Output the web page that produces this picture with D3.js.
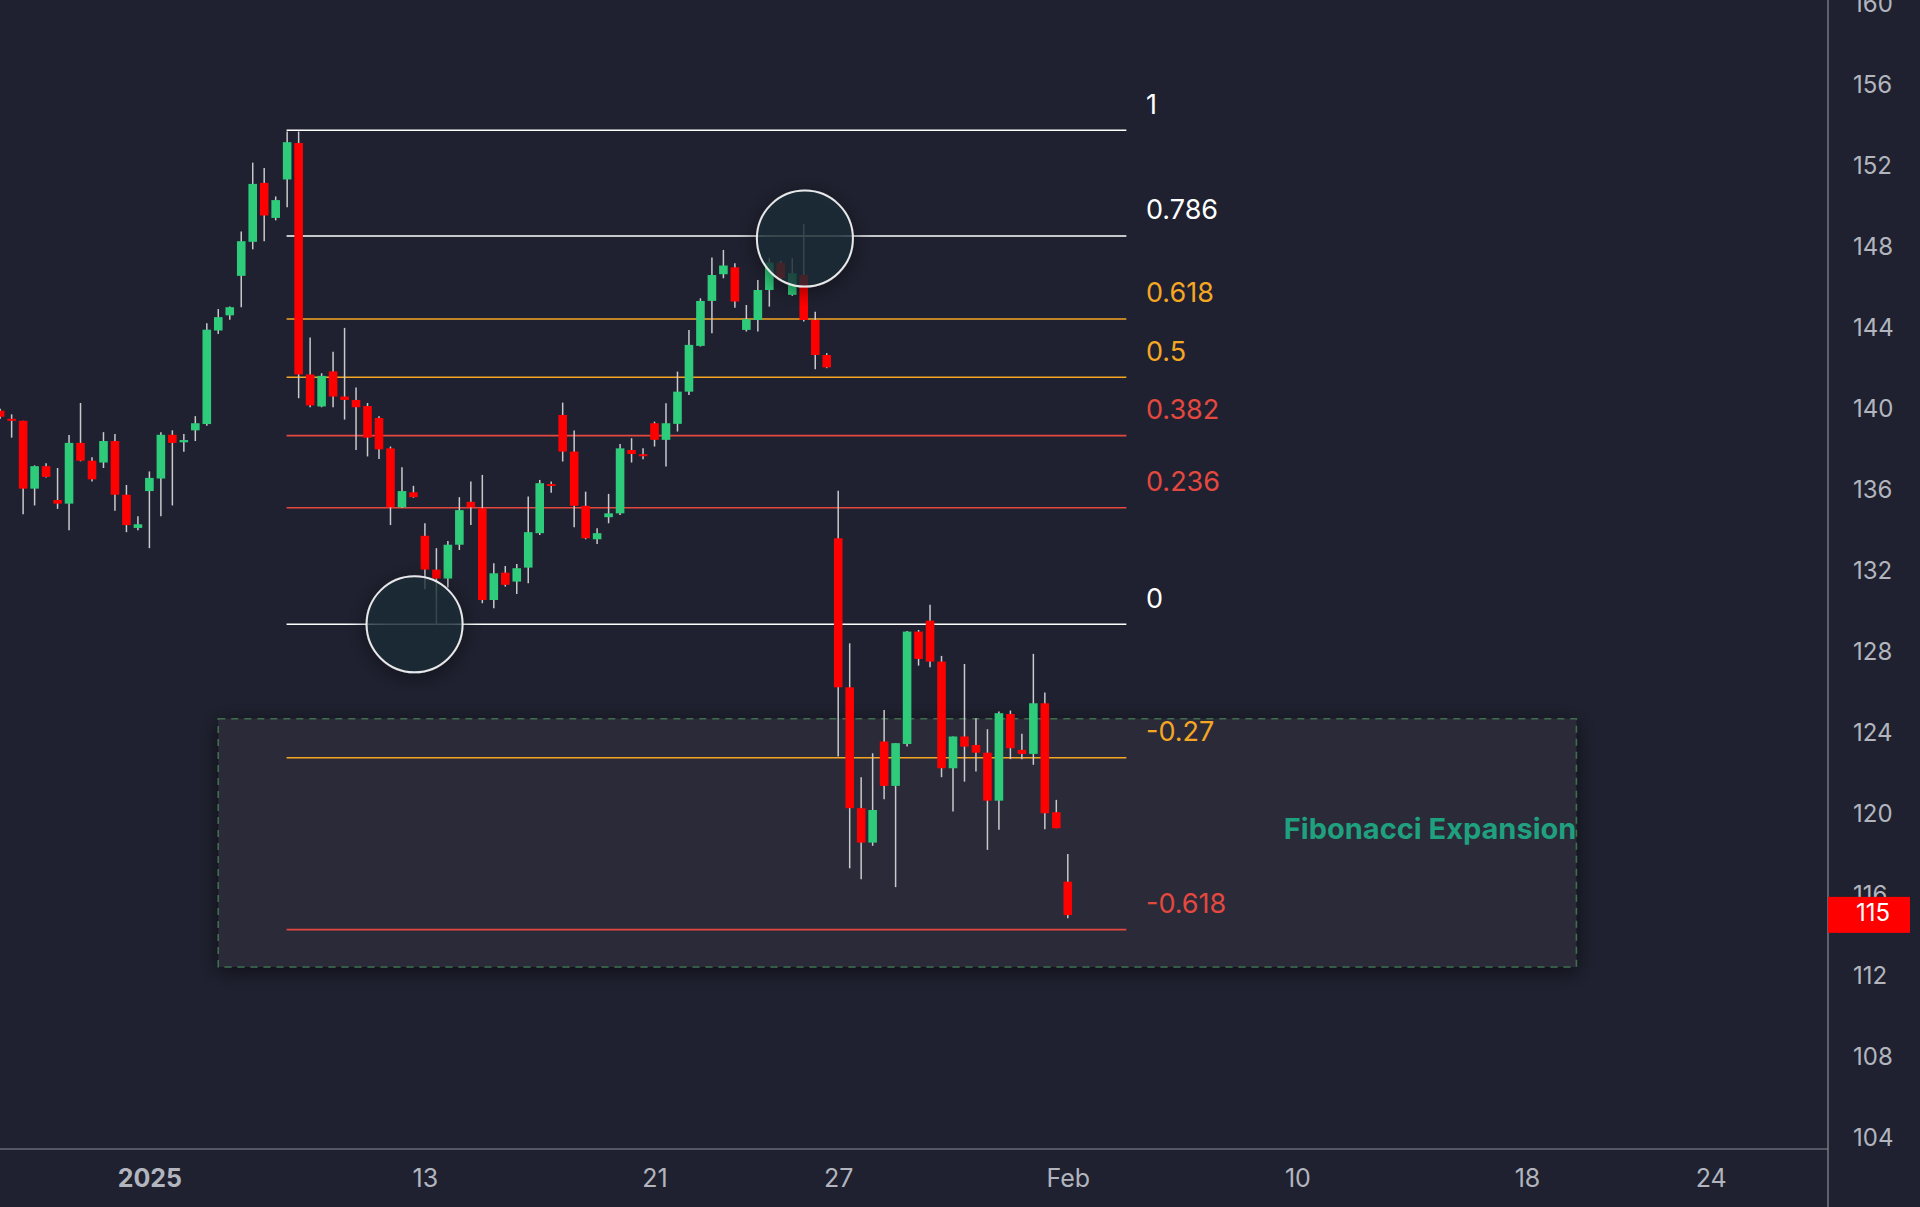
<!DOCTYPE html>
<html>
<head>
<meta charset="utf-8">
<script src="https://cdn.jsdelivr.net/npm/d3@7"></script>
<style>
  html, body { margin: 0; padding: 0; background: #1f2130; }
  svg { display: block; font-family: "Inter", "Noto Sans", sans-serif; }
</style>
</head>
<body>
<svg id="chart" width="1920" height="1207"></svg>
<script>
// candle data, bar index starts at -13 (4 bars per trading day, bar 0 = Jan 2)
const firstBar = -13;
const opens = [139.9,139.5,139.4,136.05,137.16,135.49,135.31,138.31,137.43,137.34,138.40,135.75,134.11,
  135.93,136.55,138.71,138.34,138.93,139.24,143.86,144.61,146.56,148.24,151.15,149.42,151.32,
  153.12,141.69,140.11,141.84,140.60,140.43,140.13,139.54,138.04,135.13,135.87,133.72,132.05,131.61,133.28,135.40,
  135.08,130.55,131.90,131.46,132.15,133.85,136.28,139.69,137.88,135.20,133.55,134.64,134.83,137.96,137.75,139.28,138.46,139.25,140.84,143.10,145.32,146.64,146.98,143.89,144.38,145.86,147.21,145.62,146.60,144.38,142.65,
  133.60,126.24,120.27,118.57,123.56,121.37,123.44,128.99,129.53,127.51,122.24,123.81,123.39,123.01,120.64,124.92,123.15,122.95,125.45,120.07,116.64];
const closes = [139.6,139.4,136.05,137.16,136.63,135.31,138.31,137.43,136.51,138.40,135.75,134.25,134.29,
  136.58,138.71,138.31,138.45,139.28,143.90,144.52,145.01,148.27,151.10,149.54,150.30,153.16,
  141.69,140.16,141.62,140.60,140.43,140.07,138.57,137.99,135.13,135.93,135.63,132.05,131.61,133.28,134.99,135.13,
  130.55,131.87,131.30,132.12,133.90,136.32,136.23,137.88,135.20,133.60,133.85,134.83,138.04,137.76,137.67,138.46,139.28,140.84,143.15,145.32,146.60,147.07,145.29,144.42,145.86,147.21,146.44,146.69,144.38,142.65,142.04,
  126.24,120.27,118.57,120.18,121.37,123.48,128.99,127.64,127.51,122.24,123.81,123.31,123.01,120.64,124.96,123.23,122.95,125.45,120.02,119.28,114.99];
const highs = [140.0,139.72,139.4,137.2,137.3,137.07,138.70,140.28,137.6,138.84,138.75,136.23,134.69,
  136.9,138.84,138.93,138.75,139.63,144.22,144.92,145.05,148.75,152.15,151.89,150.48,153.69,
  153.69,143.51,141.75,142.81,143.99,141.04,140.28,139.63,138.13,137.11,136.19,134.34,133.11,133.46,135.63,136.40,
  136.73,132.37,132.23,132.33,135.66,136.48,136.40,140.30,138.92,135.90,134.09,135.79,138.26,138.54,138.04,139.36,140.27,141.83,143.89,145.45,147.46,147.84,147.18,145.12,146.36,147.43,147.31,147.43,149.12,144.79,142.74,
  135.95,128.41,121.80,122.98,125.12,123.48,129.02,129.07,130.31,127.79,123.81,127.39,124.71,124.17,125.04,125.09,123.94,127.89,125.98,120.68,118.01];
const lows = [139.5,138.57,134.78,135.22,136.6,135.05,133.99,137.4,136.4,137.07,134.96,133.90,134.0,
  133.11,134.69,135.22,137.87,138.40,139.16,143.69,144.39,145.01,147.87,148.27,149.30,149.95,
  140.51,140.07,140.07,140.07,139.46,137.96,137.64,137.52,134.25,135.1,135.6,131.08,129.31,131.17,133.02,134.25,
  130.39,130.14,131.21,130.85,131.38,133.76,135.85,137.39,134.14,133.55,133.32,134.34,134.75,137.34,137.50,138.13,137.14,138.87,140.68,143.07,143.72,146.44,144.99,143.81,143.81,145.04,146.36,145.57,144.3,141.95,142.0,
  122.82,117.30,116.76,118.41,120.71,116.37,123.31,127.31,127.23,121.80,120.10,121.58,122.08,118.21,119.20,122.69,122.69,122.41,119.23,119.28,114.83];

const fibLow = 129.35, fibHigh = 153.75;
const fibRatios = [1, 0.786, 0.618, 0.5, 0.382, 0.236, 0, -0.27, -0.618];
const fibColors = ["#ffffff","#ffffff","#f5a623","#f5a623","#e5483f","#e5483f","#ffffff","#f5a623","#e5483f"];

const priceTicks = [104,108,112,116,120,124,128,132,136,140,144,148,152,156,160];
const dateTickBars = [0, 24, 44, 60, 80, 100, 120, 136];
const dateTickLabels = ["2025", "13", "21", "27", "Feb", "10", "18", "24"];

const lastPrice = 115;
const swingPoints = [{ bar: 23.1, price: 129.35 }, { bar: 57.1, price: 148.4 }];
const zone = { barStart: 6, barEnd: 124.3, top: 124.68, bottom: 112.43 };

const candles = opens.map((o, i) => ({
  i: firstBar + i, o, c: closes[i], h: highs[i], l: lows[i]
}));

const axisX = 1828, axisY = 1149;
const x = d3.scaleLinear().domain([0, 136]).range([149.4, 149.4 + 136 * 11.48]);
const y = d3.scaleLinear().domain([104, 160]).range([1137.6, 3.7]);
const bodyW = 8.6;

const svg = d3.select("#chart");

const defs = svg.append("defs");
const sh = defs.append("filter").attr("id", "shadow")
  .attr("x", "-20%").attr("y", "-20%").attr("width", "140%").attr("height", "140%");
sh.append("feDropShadow").attr("dx", 0).attr("dy", 4).attr("stdDeviation", 10)
  .attr("flood-color", "#000").attr("flood-opacity", 0.6);

svg.append("rect").attr("width", 1920).attr("height", 1207).attr("fill", "#1f2130");

//expansion zone
svg.append("rect")
  .attr("x", x(zone.barStart)).attr("y", y(zone.top))
  .attr("width", x(zone.barEnd) - x(zone.barStart))
  .attr("height", y(zone.bottom) - y(zone.top))
  .attr("fill", "#2a2c39")
  .attr("stroke", "#3f6e4e").attr("stroke-width", 1.5).attr("stroke-dasharray", "7,6")
  .attr("filter", "url(#shadow)");

svg.append("text")
  .attr("x", x(zone.barEnd)).attr("y", y(119.15))
  .attr("text-anchor", "end").attr("dominant-baseline", "middle")
  .attr("fill", "#1fa07e").attr("font-size", 29).attr("font-weight", 700)
  .text("Fibonacci Expansion");

//fib lines
const fibG = svg.append("g");
fibRatios.forEach((r, k) => {
  const p = fibLow + r * (fibHigh - fibLow);
  fibG.append("line")
    .attr("x1", x(11.95)).attr("x2", x(85.1))
    .attr("y1", y(p)).attr("y2", y(p))
    .attr("stroke", fibColors[k]).attr("stroke-width", 1.6);
  fibG.append("text")
    .attr("x", 1146).attr("y", y(p) - 24)
    .attr("dominant-baseline", "middle")
    .attr("fill", fibColors[k]).attr("font-size", 27)
    .text(String(r));
});

//candles
const cg = svg.append("g").selectAll("g").data(candles).enter().append("g");
cg.append("line")
  .attr("x1", d => x(d.i)).attr("x2", d => x(d.i))
  .attr("y1", d => y(d.h)).attr("y2", d => y(d.l))
  .attr("stroke", "#c9c9cc").attr("stroke-width", 1.5);
cg.append("rect")
  .attr("x", d => x(d.i) - bodyW / 2)
  .attr("y", d => y(Math.max(d.o, d.c)))
  .attr("width", bodyW)
  .attr("height", d => Math.max(2, Math.abs(y(d.o) - y(d.c))))
  .attr("fill", d => d.c >= d.o ? "#2ecc7a" : "#ff0000");

//swing circles
svg.append("g").selectAll("circle").data(swingPoints).enter().append("circle")
  .attr("cx", d => x(d.bar)).attr("cy", d => y(d.price)).attr("r", 48)
  .attr("fill", "rgba(27,45,56,0.7)")
  .attr("stroke", "#e8e8ea").attr("stroke-width", 2)
  .attr("filter", "url(#shadow)");

//price axis
svg.append("line").attr("x1", axisX).attr("x2", axisX).attr("y1", 0).attr("y2", 1207)
  .attr("stroke", "#8a8c94").attr("stroke-width", 1.2);
const yAxis = svg.append("g").attr("transform", `translate(${axisX},0)`)
  .call(d3.axisRight(y).tickValues(priceTicks).tickSize(0).tickPadding(25));
yAxis.select(".domain").remove();
yAxis.selectAll("text").attr("fill", "#b2b5be").attr("font-size", 24)
  .attr("font-family", "Inter, sans-serif");

//current price badge
svg.append("rect").attr("x", axisX).attr("y", y(lastPrice) - 18).attr("width", 82).attr("height", 36)
  .attr("fill", "#ff0000");
svg.append("text").attr("x", axisX + 45).attr("y", y(lastPrice))
  .attr("text-anchor", "middle").attr("dominant-baseline", "middle")
  .attr("fill", "#ffffff").attr("font-size", 24).text(lastPrice);

//date axis
svg.append("line").attr("x1", 0).attr("x2", axisX).attr("y1", axisY).attr("y2", axisY)
  .attr("stroke", "#8a8c94").attr("stroke-width", 1.2);
const xAxis = svg.append("g").attr("transform", `translate(0,${axisY})`)
  .call(d3.axisBottom(x).tickValues(dateTickBars).tickSize(0).tickPadding(20)
    .tickFormat((d, i) => dateTickLabels[i]));
xAxis.select(".domain").remove();
xAxis.selectAll("text").attr("fill", "#b2b5be").attr("font-size", 25)
  .attr("font-family", "Inter, sans-serif")
  .attr("font-weight", (d, i) => i === 0 ? 700 : 400);
</script>
</body>
</html>
